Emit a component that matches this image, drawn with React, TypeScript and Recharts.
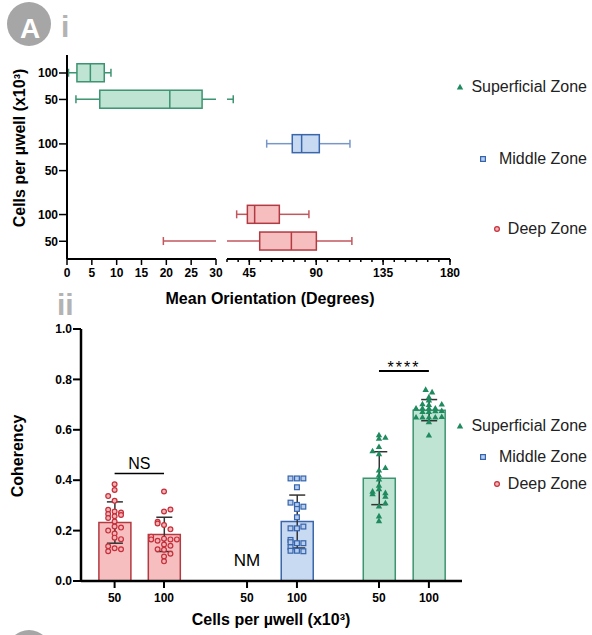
import React from 'react';
import { ComposedChart, Bar, Cell, Scatter, ErrorBar, XAxis, YAxis, ReferenceLine, ReferenceDot } from 'recharts';

const FONT = '"Liberation Sans", Arial, sans-serif';

// slot layout shared by both panels (rows in i, columns in ii)
const slots = [0, 1, 2.68, 3.69, 5.35, 6.36];
const slotDomain = [-0.68, 7.03];
const jitterStep = 0.13;

// ---- panel i: mean orientation (rows top to bottom)
const rowZones = ['sup', 'sup', 'mid', 'mid', 'deep', 'deep'];
const rowLabels = ['100', '50', '100', '50', '100', '50'];
const oriMin = [0.3, 1.8, 56.7, null, 36.5, 19.4];
const oriQ1 = [2.0, 6.6, 73.9, null, 43.7, 52.0];
const oriMedian = [4.7, 20.7, 80.2, null, 48.6, 73.3];
const oriQ3 = [7.5, 27.2, 92.1, null, 65.2, 90.1];
const oriMax = [8.85, 34.2, 112.7, null, 85.1, 114.0];
const leftTicks = [0, 5, 10, 15, 20, 25, 30];
const rightTicks = [30, 37.5, 45, 52.5, 60, 67.5, 75, 82.5, 90, 97.5, 105, 112.5, 120, 127.5, 135, 142.5, 150, 157.5, 165, 172.5, 180];
const rightMajor = [45, 90, 135, 180];

// ---- panel ii: coherency (columns left to right)
const colZones = ['deep', 'deep', 'mid', 'mid', 'sup', 'sup'];
const colLabels = ['50', '100', '50', '100', '50', '100'];
const cohMean = [0.232, 0.185, null, 0.236, 0.408, 0.678];
const cohSd = [0.082, 0.068, null, 0.105, 0.105, 0.042];

const deep50Coh = [0.384, 0.361, 0.337, 0.318, 0.283, 0.276, 0.272, 0.266, 0.257, 0.262, 0.25, 0.236, 0.216, 0.212, 0.2, 0.188, 0.172, 0.166, 0.138, 0.13, 0.126, 0.118];
const deep50Col = [0, 0, -1, 0, -1, 0, 1, -1, 0, 1, -1, 0, 0, 1, -1, 0, 0, 1, -1, 0, 1, -1];
const deep100Coh = [0.355, 0.284, 0.276, 0.235, 0.228, 0.222, 0.205, 0.176, 0.165, 0.16, 0.168, 0.165, 0.165, 0.145, 0.14, 0.126, 0.124, 0.108, 0.097, 0.078];
const deep100Col = [0, 1, 0, -1, -1, 0, 1, -2, -2, -1, 0, 1, 2, 0, 1, -1, 0, 1, 0, 0];
const mid100Coh = [0.407, 0.407, 0.407, 0.372, 0.311, 0.302, 0.286, 0.295, 0.253, 0.209, 0.209, 0.216, 0.163, 0.154, 0.15, 0.15, 0.134, 0.12, 0.12, 0.118];
const mid100Col = [-1, 0, 1, 0, -1, 0, 0, 1, 0, -1, 0, 1, -1, -1, 0, 1, -1, -1, 0, 1];
const sup50Coh = [0.58, 0.566, 0.57, 0.533, 0.516, 0.505, 0.45, 0.44, 0.42, 0.404, 0.38, 0.366, 0.356, 0.346, 0.35, 0.336, 0.31, 0.297, 0.258, 0.239];
const sup50Col = [0, 0, 1, 0, -1, 0, 1, 0, 0, 0, 0, 0, -1, -1, 1, 1, 1, 0, 0, 0];
const sup100Coh = [0.76, 0.75, 0.73, 0.718, 0.703, 0.7, 0.702, 0.686, 0.686, 0.686, 0.686, 0.672, 0.672, 0.675, 0.676, 0.65, 0.65, 0.65, 0.65, 0.652, 0.632, 0.579];
const sup100Col = [-0.5, 0.5, 0, 0, -1, 0, 2, -2, -1, 0, 1, -1, 0, 1, 2, -2, -1, 0, 1, 2, 0, 0];

const zoneStyle: Record<string, any> = {
  sup: { fill: '#bfe4d4', stroke: '#3c9470', whisker: '#3c9470', mark: '#1f8a5d' },
  mid: { fill: '#c8daf2', stroke: '#3a66ab', whisker: '#7797c8', mark: '#3563ad' },
  deep: { fill: '#f7bec0', stroke: '#b23a41', whisker: '#c2575d', mark: '#c52f3a' },
};

const boxRows = rowLabels
  .map((l, i) => ({ pos: slots[i], zone: rowZones[i], min: oriMin[i], q1: oriQ1[i], median: oriMedian[i], q3: oriQ3[i], max: oriMax[i] }))
  .filter((r) => r.min != null);

const cohRows = slots.map((s, i) => ({ pos: s, zone: colZones[i], mean: cohMean[i], sd: cohSd[i] }));

const pointGroups = [
  { col: 0, zone: 'deep', values: deep50Coh, cols: deep50Col },
  { col: 1, zone: 'deep', values: deep100Coh, cols: deep100Col },
  { col: 3, zone: 'mid', values: mid100Coh, cols: mid100Col },
  { col: 4, zone: 'sup', values: sup50Coh, cols: sup50Col },
  { col: 5, zone: 'sup', values: sup100Coh, cols: sup100Col },
];

const tickFont = { fill: '#000', fontSize: 12, fontWeight: 700, fontFamily: FONT };
const axisStroke = { stroke: '#000', strokeWidth: 2 };

function BoxShape(props: any) {
  const { x, y, width, height, payload } = props;
  const st = zoneStyle[payload.zone];
  const k = width / (payload.max - payload.min);
  const px = (v: number) => x + (v - payload.min) * k;
  const cy = y + height / 2;
  return (
    <g>
      <line x1={px(payload.min)} x2={px(payload.q1)} y1={cy} y2={cy} stroke={st.whisker} strokeWidth={1.5} />
      <line x1={px(payload.q3)} x2={px(payload.max)} y1={cy} y2={cy} stroke={st.whisker} strokeWidth={1.5} />
      <line x1={px(payload.min)} x2={px(payload.min)} y1={cy - 4} y2={cy + 4} stroke={st.whisker} strokeWidth={1.5} />
      <line x1={px(payload.max)} x2={px(payload.max)} y1={cy - 4} y2={cy + 4} stroke={st.whisker} strokeWidth={1.5} />
      <rect x={px(payload.q1)} y={y} width={px(payload.q3) - px(payload.q1)} height={height} fill={st.fill} stroke={st.stroke} strokeWidth={1.5} />
      <line x1={px(payload.median)} x2={px(payload.median)} y1={y} y2={y + height} stroke={st.stroke} strokeWidth={1.5} />
    </g>
  );
}

function RightTick(props: any) {
  const { x, y, payload } = props;
  if (!rightMajor.includes(payload.value)) return null;
  return (
    <g>
      <line x1={x} x2={x} y1={y - 9} y2={y - 3} stroke="#000" strokeWidth={1.5} />
      <text x={x} y={y} dy="0.71em" textAnchor="middle" {...tickFont}>{payload.value}</text>
    </g>
  );
}

const Tri = (p: any) => (
  <path d={`M${p.cx},${p.cy - 3.2} L${p.cx + 3.2},${p.cy + 2.4} L${p.cx - 3.2},${p.cy + 2.4} Z`} fill={zoneStyle.sup.mark} />
);
const Sq = (p: any) => (
  <rect x={p.cx - 2.4} y={p.cy - 2.4} width={4.8} height={4.8} fill="#b7cdea" stroke={zoneStyle.mid.mark} strokeWidth={1.2} />
);
const Circ = (p: any) => <circle cx={p.cx} cy={p.cy} r={2.4} fill="#f4b3b6" stroke={zoneStyle.deep.mark} strokeWidth={1.2} />;
const markShape: Record<string, any> = { sup: Tri, mid: Sq, deep: Circ };

const legendItems = [
  { zone: 'sup', label: 'Superficial Zone' },
  { zone: 'mid', label: 'Middle Zone' },
  { zone: 'deep', label: 'Deep Zone' },
];
const legendMarkX = [460, 483, 497];

function Marker({ zone, x, y }: any) {
  const Shape = markShape[zone];
  return <Shape cx={x} cy={y} />;
}

export default function App() {
  return (
    <div style={{ position: 'absolute', left: 0, top: 0, width: 592, height: 635, background: '#fff', fontFamily: FONT }}>
      {/* panel i, 0-30 segment */}
      <div style={{ position: 'absolute', left: 0, top: 0 }}>
        <ComposedChart layout="vertical" width={240} height={300} data={boxRows} margin={{ top: 55, right: 24, bottom: 11, left: 30 }}>
          <XAxis type="number" domain={[0, 30]} allowDataOverflow ticks={leftTicks} interval={0} height={30}
            tickSize={6} tickMargin={3} axisLine={axisStroke} tickLine={{ stroke: '#000', strokeWidth: 1.5 }} tick={tickFont} />
          <YAxis type="number" dataKey="pos" domain={slotDomain} ticks={slots} interval={0} width={37}
            tickFormatter={(v: number) => rowLabels[slots.indexOf(v)]} tickSize={8} tickMargin={1}
            axisLine={axisStroke} tickLine={{ stroke: '#000', strokeWidth: 1.5 }} tick={tickFont} />
          <Bar dataKey={(d: any) => [d.min, d.max]} barSize={18} shape={(p: any) => <BoxShape {...p} />} isAnimationActive={false} />
        </ComposedChart>
      </div>
      {/* panel i, 30-180 segment */}
      <div style={{ position: 'absolute', left: 190, top: 0 }}>
        <ComposedChart layout="vertical" width={270} height={300} data={boxRows} margin={{ top: 55, right: 10, bottom: 11, left: 37 }}>
          <XAxis type="number" domain={[30, 180]} allowDataOverflow ticks={rightTicks} interval={0} height={30}
            tickSize={3} tickMargin={6} axisLine={axisStroke} tickLine={{ stroke: '#000', strokeWidth: 1.5 }} tick={<RightTick />} />
          <YAxis type="number" dataKey="pos" domain={slotDomain} hide />
          <Bar dataKey={(d: any) => [d.min, d.max]} barSize={18} shape={(p: any) => <BoxShape {...p} />} isAnimationActive={false} />
        </ComposedChart>
      </div>
      {/* panel ii */}
      <div style={{ position: 'absolute', left: 0, top: 300 }}>
        <ComposedChart width={480} height={335} data={cohRows} margin={{ top: 29, right: 18, bottom: 24, left: 41 }}>
          <XAxis type="number" dataKey="pos" domain={slotDomain} ticks={slots} interval={0} height={30}
            tickFormatter={(v: number) => colLabels[slots.indexOf(v)]} tickSize={7} tickMargin={5}
            axisLine={{ stroke: '#000', strokeWidth: 2.5 }} tickLine={{ stroke: '#000', strokeWidth: 2 }} tick={tickFont} />
          <XAxis xAxisId="pts" type="number" dataKey="pos" domain={slotDomain} hide />
          <YAxis type="number" domain={[0, 1]} ticks={[0, 0.2, 0.4, 0.6, 0.8, 1]} interval={0} width={40}
            tickFormatter={(v: number) => v.toFixed(1)} tickSize={8} tickMargin={1}
            axisLine={{ stroke: '#000', strokeWidth: 2.5 }} tickLine={{ stroke: '#000', strokeWidth: 2 }} tick={tickFont} />
          <Bar dataKey="mean" barSize={32} strokeWidth={1.5} isAnimationActive={false}>
            {cohRows.map((r, i) => (
              <Cell key={i} fill={zoneStyle[r.zone].fill} stroke={zoneStyle[r.zone].stroke} />
            ))}
            <ErrorBar dataKey="sd" width={8} stroke="#333" strokeWidth={1.5} direction="y" />
          </Bar>
          {pointGroups.map((g, gi) => (
            <Scatter
              key={gi}
              xAxisId="pts"
              data={g.values.map((v, i) => ({ pos: slots[g.col] + g.cols[i] * jitterStep, value: v }))}
              dataKey="value"
              shape={markShape[g.zone]}
              isAnimationActive={false}
            />
          ))}
          <ReferenceLine segment={[{ x: slots[0], y: 0.427 }, { x: slots[1], y: 0.427 }]} stroke="#000" strokeWidth={1.5}
            label={{ value: 'NS', position: 'top', offset: 4, fill: '#000', fontSize: 16, fontFamily: FONT }} />
          <ReferenceLine segment={[{ x: slots[4], y: 0.833 }, { x: slots[5], y: 0.833 }]} stroke="#000" strokeWidth={2}
            label={{ value: '****', position: 'top', offset: -2, fill: '#000', fontSize: 16, fontFamily: FONT, letterSpacing: 2 }} />
          <ReferenceDot x={slots[2]} y={0.083} r={1} fill="none" stroke="none"
            label={{ value: 'NM', position: 'center', fill: '#000', fontSize: 17, fontFamily: FONT }} />
        </ComposedChart>
      </div>
      {/* titles, panel marks, legends */}
      <svg width={592} height={635} style={{ position: 'absolute', left: 0, top: 0, pointerEvents: 'none' }} fontFamily={FONT}>
        <circle cx={29} cy={24} r={22} fill="#a6a6a6" />
        <text x={30} y={38} textAnchor="middle" fill="#fff" fontSize={28} fontWeight={700}>A</text>
        <text x={61} y={36.5} fill="#b3b3b3" fontSize={30} fontWeight={700}>i</text>
        <text x={57} y={315} fill="#b3b3b3" fontSize={30} fontWeight={700}>ii</text>
        <circle cx={29} cy={652} r={22} fill="#a6a6a6" />
        <text transform="translate(25,148) rotate(-90)" textAnchor="middle" fontSize={16} fontWeight={700}>Cells per µwell (x10³)</text>
        <text x={270} y={304} textAnchor="middle" fontSize={16} fontWeight={700}>Mean Orientation (Degrees)</text>
        <text transform="translate(23,456) rotate(-90)" textAnchor="middle" fontSize={16} fontWeight={700}>Coherency</text>
        <text x={271} y={625} textAnchor="middle" fontSize={16} fontWeight={700}>Cells per µwell (x10³)</text>
        {legendItems.map((it, i) => {
          const y = [86, 158, 228][i];
          return (
            <g key={'t' + i}>
              <Marker zone={it.zone} x={legendMarkX[i]} y={y + 1} />
              <text x={587} y={y + 5.5} textAnchor="end" fontSize={16} fill="#222">{it.label}</text>
            </g>
          );
        })}
        {legendItems.map((it, i) => {
          const y = [425, 456, 483][i];
          return (
            <g key={'b' + i}>
              <Marker zone={it.zone} x={legendMarkX[i]} y={y + 1} />
              <text x={587} y={y + 5.5} textAnchor="end" fontSize={16} fill="#222">{it.label}</text>
            </g>
          );
        })}
      </svg>
    </div>
  );
}
